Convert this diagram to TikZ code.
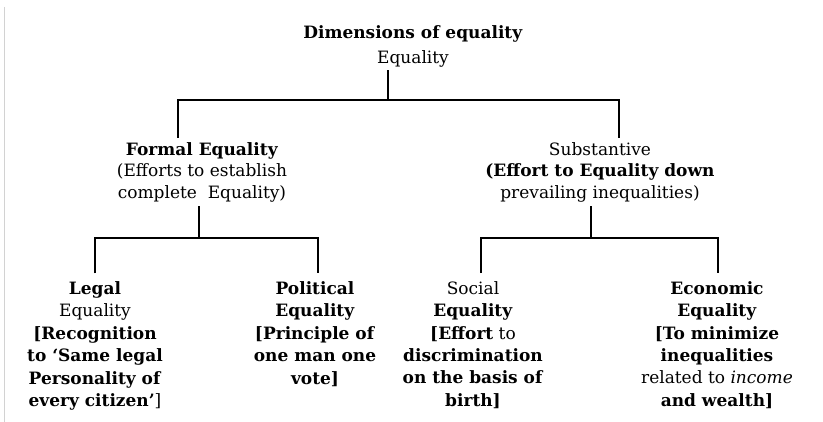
\documentclass[tikz,border=0pt]{standalone}
\usepackage{fontspec}
\setmainfont{DejaVu Serif}
\usetikzlibrary{positioning}

\begin{document}
\begin{tikzpicture}[x=1pt, y=-1pt,
  head/.style={align=center, font=\fontsize{17}{25}\selectfont, inner sep=3pt},
  branch/.style={align=center, font=\fontsize{17}{21.5}\selectfont, inner sep=4pt},
  leaf/.style={align=center, font=\fontsize{17}{22.4}\selectfont, inner xsep=2pt, inner ysep=8pt},
  link/.style={line width=1.1pt},
  drop/.style={line width=1.7pt},
]
\useasboundingbox[fill=white] (0,0) rectangle (823,422);
% scan edge on the left
\draw[gray!35, line width=1.3pt] (4.5,7) -- (4.5,422);

\node[head]   (top)    at (413,46)  {\textbf{Dimensions of equality}\\Equality};
\node[branch] (formal) at (202,172) {\textbf{Formal Equality}\\(Efforts to establish\\complete\ \ Equality)};
\node[branch] (subst)  at (600,172) {Substantive\\\textbf{(Effort to Equality down}\\prevailing inequalities)};

\node[leaf] (legal)    at (95,346)  {\textbf{Legal}\\Equality\\\textbf{[Recognition}\\\textbf{to `Same legal}\\\textbf{Personality of}\\\textbf{every citizen'}]};
\node[leaf] (politic)  at (315,334) {\textbf{Political}\\\textbf{Equality}\\\textbf{[Principle of}\\\textbf{one man one}\\\textbf{vote]}};
\node[leaf] (social)   at (473,345) {Social\\\textbf{Equality}\\\textbf{[Effort} to\\\textbf{discrimination}\\\textbf{on the basis of}\\\textbf{birth]}};
\node[leaf] (economic) at (717,345) {\textbf{Economic}\\\textbf{Equality}\\\textbf{[To minimize}\\\textbf{inequalities}\\related to \textit{income}\\\textbf{and wealth]}};

\coordinate (j0) at (388,100);
\coordinate (j1) at (199,238);
\coordinate (j2) at (591,238);

% first level
\draw[drop] (top.south -| j0) -- (j0);
\draw[link] ([xshift=-24pt]formal.north) |- (j0) -| ([xshift=19pt]subst.north);
\draw[drop] ([xshift=-24pt]formal.north) -- ++(0,-31);
\draw[drop] ([xshift=19pt]subst.north) -- ++(0,-31);

% second level
\draw[drop] (formal.south -| j1) -- (j1);
\draw[link] (legal.north) |- (j1) -| ([xshift=3pt]politic.north);
\draw[drop] (subst.south -| j2) -- (j2);
\draw[link] ([xshift=8pt]social.north) |- (j2) -| ([xshift=1pt]economic.north);
\end{tikzpicture}
\end{document}
